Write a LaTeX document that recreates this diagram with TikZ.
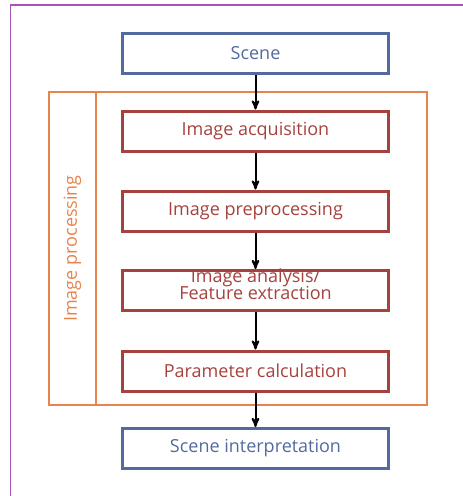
\documentclass[tikz,border=0pt]{standalone}
\usepackage{fontspec}
\setmainfont{Open Sans}
\usepackage{tikz}
\usetikzlibrary{arrows}

\definecolor{sceneblue}{RGB}{82,106,160}
\definecolor{stepred}{RGB}{166,66,62}
\definecolor{procorange}{RGB}{231,132,78}
\definecolor{framepurple}{RGB}{165,85,180}
\newcommand{\boxfont}{\fontsize{18}{17}\selectfont\lineskiplimit=-20pt\relax}

\begin{document}
\begin{tikzpicture}[x=1pt, y=-1pt, ->,>=stealth', thick,
                scene node/.style={rectangle,draw=sceneblue,text=sceneblue,line width=3pt,
                  minimum width=266pt,minimum height=40pt,inner sep=0pt,align=center,
                  font=\boxfont},
                step node/.style={scene node,draw=stepred,text=stepred},
                proc node/.style={rectangle,draw=procorange,line width=2pt,inner sep=0pt}]

  \useasboundingbox (0,0) rectangle (463,496);
  \draw[-,framepurple,line width=1.2pt] (463,5) -- (10.5,5) -- (10.5,496);

  \node[proc node,minimum width=378pt,minimum height=313pt] (P) at (238,248.5) {};
  \node[proc node,minimum width=47pt,minimum height=313pt] (L) at (72.5,248.5) {};
  \node[rotate=90,text=procorange,font=\boxfont] (Ltext) at (L.center) {Image processing};

  \node[scene node] (S) at (255.5,53.5) {Scene};
  \node[step node] (A) at (255.5,131) {Image acquisition};
  \node[step node] (B) at (255.5,211) {Image preprocessing};
  \node[step node,text height=19pt] (C) at (255.5,290.5) {Image analysis/\\Feature extraction};
  \node[step node] (D) at (255.5,371) {Parameter calculation};
  \node[scene node] (I) at (255.5,448.5) {Scene interpretation};

  \path[line width=2pt,black]
    (S) edge (A)
    (A) edge (B)
    (B) edge (C)
    (C) edge (D)
    (D) edge (I);
\end{tikzpicture}
\end{document}
